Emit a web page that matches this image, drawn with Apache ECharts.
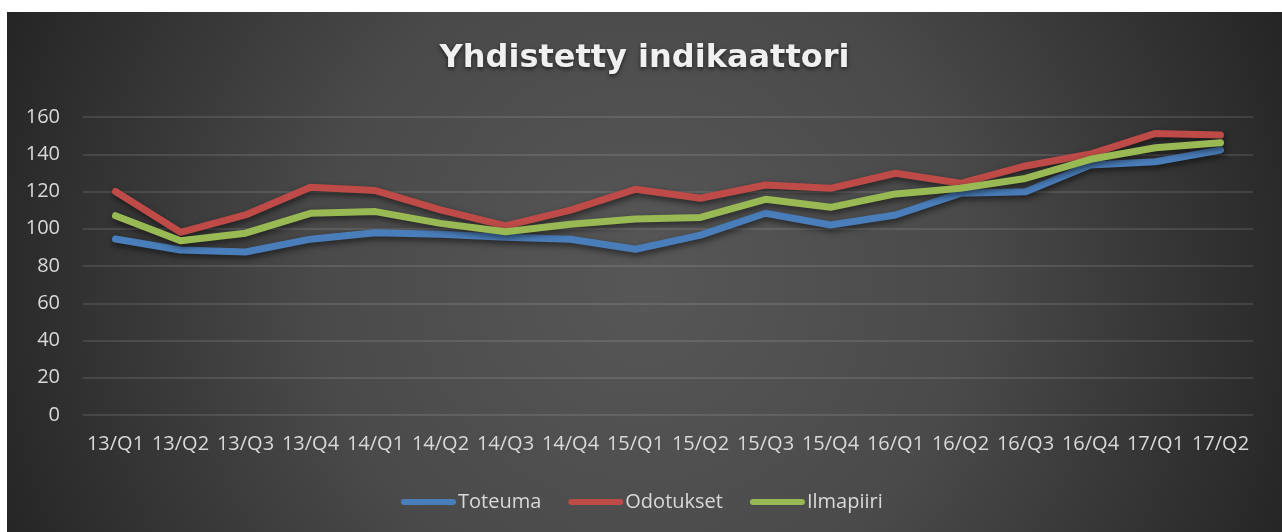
<!DOCTYPE html>
<html>
<head>
<meta charset="utf-8">
<script src="https://cdn.jsdelivr.net/npm/echarts@6/dist/echarts.min.js"></script>
<style>
html,body{margin:0;padding:0;background:#ffffff;width:1282px;height:532px;overflow:hidden;}
#chart{position:absolute;left:7px;top:12px;width:1275px;height:520px;}
</style>
</head>
<body>
<div id="chart"></div>
<script>
const categories = ['13/Q1','13/Q2','13/Q3','13/Q4','14/Q1','14/Q2','14/Q3','14/Q4','15/Q1','15/Q2','15/Q3','15/Q4','16/Q1','16/Q2','16/Q3','16/Q4','17/Q1','17/Q2'];
const toteuma   = [94.5, 88.6, 87.5, 94.4, 97.9, 97.0, 95.4, 94.4, 89.0, 96.6, 108.3, 102.0, 107.4, 119.0, 119.9, 134.2, 136.0, 142.3];
const odotukset = [120.0, 98.1, 107.4, 122.3, 120.5, 110.1, 101.5, 110.0, 121.2, 116.4, 123.5, 121.7, 129.8, 124.4, 133.7, 140.1, 151.2, 150.3];
const ilmapiiri = [107.0, 93.6, 97.6, 108.3, 109.2, 102.9, 98.4, 102.4, 105.2, 106.1, 115.8, 111.5, 118.7, 121.7, 127.0, 137.3, 143.5, 146.2];
const seriesNames = ['Toteuma','Odotukset','Ilmapiiri'];
const seriesColors = ['#4a7ebb','#be4b48','#98b954'];
const yTicks = {min: 0, max: 160, interval: 20};

const chart = echarts.init(document.getElementById('chart'));
const font = '"Open Sans", Lato, sans-serif';
const legendIcon = 'path://M3,0 H52 A3,3 0 0 1 52,6 H3 A3,3 0 0 1 3,0 Z';
const mkSeries = (name, data, color) => ({
  name: name, type: 'line', data: data, symbol: 'none', showSymbol: false,
  lineStyle: {color: color, width: 7, cap: 'round', join: 'round',
    shadowColor: 'rgba(0,0,0,0.55)', shadowBlur: 6, shadowOffsetY: 3, shadowOffsetX: 1},
  itemStyle: {color: color},
  emphasis: {disabled: true}
});
chart.setOption({
  animation: false,
  backgroundColor: {
    type: 'radial', x: 637, y: 270, r: 720, global: true,
    colorStops: [
      {offset: 0, color: '#575757'},
      {offset: 0.45, color: '#4a4a4a'},
      {offset: 1, color: '#222222'}
    ]
  },
  title: {
    text: 'Yhdistetty indikaattori',
    left: 'center', top: 26,
    textStyle: {fontFamily: '"DejaVu Sans", "Open Sans", sans-serif', fontSize: 32, fontWeight: 'bold', color: '#f0f0f0',
      textShadowColor: 'rgba(0,0,0,0.6)', textShadowBlur: 4, textShadowOffsetY: 2}
  },
  legend: {
    data: seriesNames.map(n => ({name: n, icon: legendIcon})), bottom: 15, left: 389,
    itemWidth: 55, itemHeight: 7, itemGap: 27,
    textStyle: {fontFamily: font, fontSize: 20, color: '#d9d9d9', padding: [0,0,0,-3]}
  },
  grid: {left: 76, right: 29, top: 105, bottom: 117},
  xAxis: {
    type: 'category', data: categories, boundaryGap: true,
    axisLine: {show: false}, axisTick: {show: false},
    axisLabel: {fontFamily: font, fontSize: 20, color: '#d9d9d9', margin: 19, interval: 0}
  },
  yAxis: {
    type: 'value', min: yTicks.min, max: yTicks.max, interval: yTicks.interval,
    axisLine: {show: false}, axisTick: {show: false},
    axisLabel: {fontFamily: font, fontSize: 20, color: '#d9d9d9', margin: 23},
    splitLine: {lineStyle: {color: 'rgba(255,255,255,0.14)', width: 1.5}}
  },
  series: [
    mkSeries(seriesNames[0], toteuma, seriesColors[0]),
    mkSeries(seriesNames[1], odotukset, seriesColors[1]),
    mkSeries(seriesNames[2], ilmapiiri, seriesColors[2])
  ]
});
</script>
</body>
</html>
